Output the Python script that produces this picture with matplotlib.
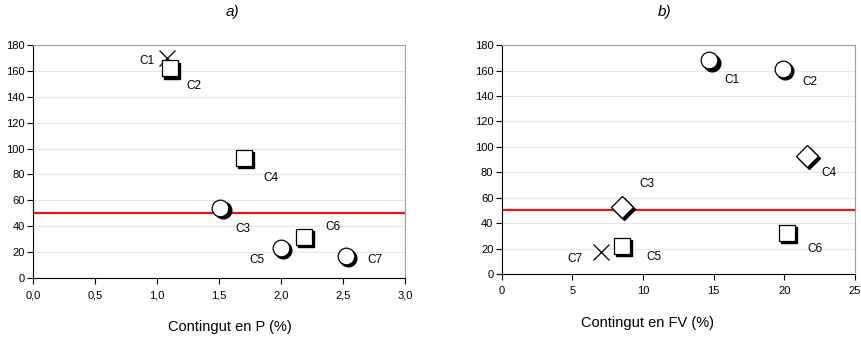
import matplotlib
matplotlib.use('Agg')
import matplotlib.pyplot as plt
from matplotlib import transforms

plt.rcParams['font.family'] = ['Liberation Sans', 'DejaVu Sans']

# dades
etiquetes = ['C1', 'C2', 'C3', 'C4', 'C5', 'C6', 'C7']
p_pct = [1.08, 1.10, 1.51, 1.70, 2.00, 2.18, 2.52]
p_valor = [170, 162, 54, 93, 23, 32, 17]
fv_pct = [14.7, 19.9, 8.5, 21.6, 8.5, 20.2, 7.0]
fv_valor = [168, 161, 53, 93, 22, 32.5, 17]
llindar = 50

marques_a = ['x', 's', 'o', 's', 'o', 's', 'o']
marques_b = ['o', 'o', 'D', 'D', 's', 's', 'x']
# desplaçament etiquetes (pixels)
desp_a = [(-20, -3), (24, -18), (22, -21), (27, -20), (-24, -12), (29, 10), (29, -4)]
desp_b = [(22, -20), (27, -13), (25, 23), (22, -17), (32, -11), (28, -16), (-26, -7)]

fig = plt.figure(figsize=(8.62, 3.44), dpi=100)
ax1 = fig.add_axes([0.0383, 0.192, 0.432, 0.677])
ax2 = fig.add_axes([0.582, 0.2035, 0.410, 0.6655])


def dibuixa(ax, xs, ys, marques, desp):
    ombra = transforms.offset_copy(ax.transData, fig=fig, x=2.2, y=-2.2, units='dots')
    for x, y, m, e, d in zip(xs, ys, marques, etiquetes, desp):
        if m == 'x':
            ax.plot(x, y, marker='x', color='black', markersize=12, mew=0.9, zorder=4)
        else:
            ms = 11 if m == 'D' else 12
            ax.plot(x, y, marker=m, color='black', markersize=ms, mec='black',
                    transform=ombra, zorder=3)
            ax.plot(x, y, marker=m, color='white', markersize=ms, mec='black',
                    mew=0.9, zorder=4)
        ax.annotate(e, (x, y), xytext=d, textcoords='offset pixels',
                    ha='center', va='center', fontsize=8.5)
    ax.axhline(llindar, color='#e8141b', lw=1.6, zorder=2)
    ax.set_ylim(0, 180)
    ax.set_yticks(range(0, 181, 20))
    ax.yaxis.grid(True, color='#e6e6e6', lw=0.8)
    ax.set_axisbelow(True)
    for s in ['top', 'right']:
        ax.spines[s].set_color('#a0a0a0')
    ax.tick_params(labelsize=8, length=4, width=0.8, direction='out', pad=2)
    ax.tick_params(axis='x', pad=5)


dibuixa(ax1, p_pct, p_valor, marques_a, desp_a)
ax1.set_xlim(0, 3)
ax1.set_xticks([0, 0.5, 1, 1.5, 2, 2.5, 3])
ax1.set_xticklabels(['0,0', '0,5', '1,0', '1,5', '2,0', '2,5', '3,0'])

dibuixa(ax2, fv_pct, fv_valor, marques_b, desp_b)
ax2.set_xlim(0, 25)
ax2.set_xticks(range(0, 26, 5))

fig.text(230 / 862, 1 - 327 / 344, 'Contingut en P (%)', fontsize=10.5, ha='center', va='center')
fig.text(648 / 862, 1 - 323 / 344, 'Contingut en FV (%)', fontsize=10.5, ha='center', va='center')
fig.text(232 / 862, 1 - 12 / 344, 'a)', fontsize=11, style='italic', ha='center', va='center')
fig.text(665 / 862, 1 - 12 / 344, 'b)', fontsize=11, style='italic', ha='center', va='center')

fig.savefig('out.png', dpi=100)
